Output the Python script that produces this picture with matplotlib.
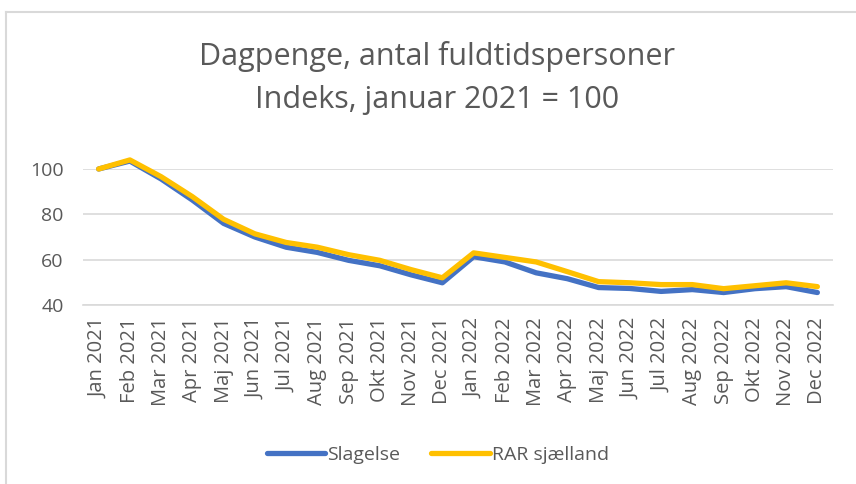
import matplotlib.pyplot as plt
from matplotlib.lines import Line2D

months = ['Jan 2021', 'Feb 2021', 'Mar 2021', 'Apr 2021', 'Maj 2021', 'Jun 2021',
          'Jul 2021', 'Aug 2021', 'Sep 2021', 'Okt 2021', 'Nov 2021', 'Dec 2021',
          'Jan 2022', 'Feb 2022', 'Mar 2022', 'Apr 2022', 'Maj 2022', 'Jun 2022',
          'Jul 2022', 'Aug 2022', 'Sep 2022', 'Okt 2022', 'Nov 2022', 'Dec 2022']
slagelse = [100, 103.5, 95.6, 86.3, 76, 70, 65.5, 63.2, 59.7, 57.3, 53.3, 49.8,
            61.3, 59, 54.2, 51.6, 47.7, 47.3, 46, 46.8, 45.5, 47.2, 48.1, 45.5]
rar = [100, 104, 96.6, 87.8, 77.8, 71.4, 67.6, 65.5, 62.2, 59.7, 55.6, 52,
       63, 61, 59, 54.7, 50.3, 49.8, 49, 49, 47.2, 48.5, 49.8, 48.1]
yticks = [40, 60, 80, 100]

plt.rcParams['font.family'] = ['Open Sans', 'DejaVu Sans']
grey = '#595959'

fig = plt.figure(figsize=(8.56, 4.84), dpi=100)
W, H = 856, 484
ax = fig.add_axes([83 / W, 1 - 305 / H, 750 / W, 136 / H])

x = range(len(months))
ax.plot(x, slagelse, color='#4472C4', lw=3.8, solid_capstyle='round', clip_on=False)
ax.plot(x, rar, color='#FFC000', lw=3.8, solid_capstyle='round', clip_on=False)

ax.set_xlim(-0.5, len(months) - 0.5)
ax.set_ylim(40, 100)
ax.set_yticks(yticks)
ax.set_xticks(list(x))
ax.set_xticklabels(months, rotation=90, fontsize=14.5, color=grey)
ax.tick_params(axis='y', labelsize=14, colors=grey, length=0, pad=14)
ax.tick_params(axis='x', length=0, pad=9)
ax.grid(axis='y', color='#D9D9D9', lw=1.2)
ax.set_axisbelow(True)
for s in ['top', 'right', 'left']:
    ax.spines[s].set_visible(False)
ax.spines['bottom'].set_color('#D9D9D9')
ax.spines['bottom'].set_linewidth(1.2)

fig.text(437 / W, 1 - 57 / H, 'Dagpenge, antal fuldtidspersoner', ha='center', va='center',
         fontsize=22, color=grey)
fig.text(437 / W, 1 - 100 / H, 'Indeks, januar 2021 = 100', ha='center', va='center',
         fontsize=22, color=grey)

handles = [Line2D([], [], color='#4472C4', lw=3.8, solid_capstyle='round'),
           Line2D([], [], color='#FFC000', lw=3.8, solid_capstyle='round')]
fig.legend(handles, ['Slagelse', 'RAR sjælland'], loc='center', bbox_to_anchor=(438 / W, 1 - 455 / H),
           ncol=2, frameon=False, fontsize=14, labelcolor=grey, handlelength=3.0,
           handletextpad=0.1, columnspacing=1.6)

# chart border (only left and top visible in the crop)
fig.add_artist(Line2D([6 / W, 6 / W], [0, 1 - 12 / H], color='#D9D9D9', lw=1.5))
fig.add_artist(Line2D([6 / W, 1], [1 - 12 / H, 1 - 12 / H], color='#D9D9D9', lw=1.5))

fig.savefig('out.png', dpi=100)
